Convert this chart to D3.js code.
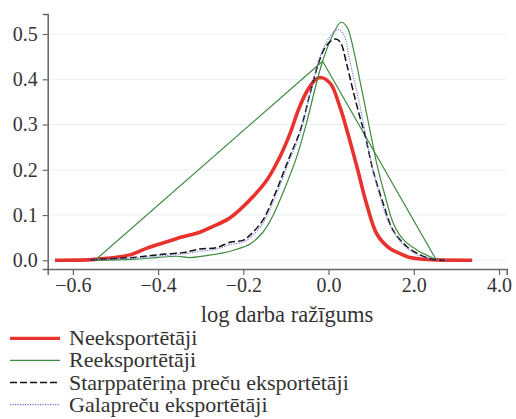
<!DOCTYPE html>
<html>
<head>
<meta charset="utf-8">
<script src="https://cdn.jsdelivr.net/npm/d3@7"></script>
<style>
  body { margin: 0; background: #fff; }
</style>
</head>
<body>
<svg id="canvas"></svg>
<script>
/***********************************************************************/
// Data

var xTickValues = [-6, -4, -2, 0, 2, 4];
var xTickLabels = ['\u22120.6', '\u22120.4', '\u22120.2', '0.0', '2.0', '4.0'];
var yTickValues = [0, 0.1, 0.2, 0.3, 0.4, 0.5];

// Neeksportētāji
var redX = [-6.42, -5.48, -4.66, -4.26, -3.79, -3.42, -3.02, -2.71, -2.36, -2.08, -1.77, -1.45, -1.14, -0.90, -0.71, -0.51, -0.32, -0.20, 0.04, 0.27, 0.43, 0.67, 0.90, 1.14, 1.44, 1.68, 1.91, 2.15, 2.55, 3.37];
var redY = [0, 0.002, 0.012, 0.027, 0.041, 0.052, 0.062, 0.075, 0.091, 0.112, 0.141, 0.177, 0.229, 0.281, 0.332, 0.373, 0.398, 0.404, 0.391, 0.338, 0.288, 0.205, 0.122, 0.057, 0.026, 0.015, 0.006, 0.003, 0.001, 0];

// Reeksportētāji
var greenX = [-5.48, -4.6, -4.03, -3.56, -3.25, -2.9, -2.5, -2.17, -1.84, -1.54, -1.33, -0.98, -0.75, -0.51, -0.32, -0.14, 0.11, 0.29, 0.43, 0.58, 0.74, 0.90, 1.05, 1.14, 1.33, 1.52, 1.76, 2.07, 2.38, 2.52];
var greenY = [0, 0.002, 0.006, 0.009, 0.006, 0.010, 0.016, 0.024, 0.036, 0.062, 0.094, 0.170, 0.228, 0.306, 0.378, 0.440, 0.500, 0.526, 0.516, 0.468, 0.395, 0.321, 0.250, 0.210, 0.141, 0.082, 0.045, 0.023, 0.008, 0.002];
// stray straight segment of the green line
var greenJumpX = [-5.48, -0.14, 2.52];
var greenJumpY = [0, 0.440, 0.002];

// Starppatēriņa preču eksportētāji
var blackX = [-5.6, -4.5, -4.03, -3.42, -3.02, -2.62, -2.31, -2.01, -1.84, -1.54, -1.22, -0.93, -0.67, -0.43, -0.22, -0.05, 0.15, 0.27, 0.43, 0.58, 0.74, 0.86, 1.04, 1.28, 1.51, 1.84, 2.15, 2.45, 2.73];
var blackY = [0.001, 0.007, 0.012, 0.017, 0.025, 0.028, 0.040, 0.044, 0.056, 0.089, 0.155, 0.225, 0.285, 0.370, 0.440, 0.475, 0.489, 0.483, 0.432, 0.373, 0.315, 0.275, 0.200, 0.126, 0.067, 0.030, 0.012, 0.002, 0];

// Galapreču eksportētāji
var blueX = [-5.6, -4.5, -4.03, -3.42, -3.02, -2.62, -2.31, -2.01, -1.84, -1.54, -1.22, -0.93, -0.67, -0.43, -0.22, -0.05, 0.20, 0.35, 0.50, 0.74, 0.97, 1.21, 1.44, 1.75, 2.08, 2.45, 2.8];
var blueY = [0.001, 0.005, 0.009, 0.014, 0.020, 0.025, 0.035, 0.040, 0.050, 0.082, 0.147, 0.218, 0.280, 0.368, 0.445, 0.482, 0.510, 0.500, 0.440, 0.340, 0.230, 0.140, 0.078, 0.035, 0.012, 0.003, 0];

var legendLabels = ['Neeksportētāji', 'Reeksportētāji', 'Starppatēriņa preču eksportētāji', 'Galapreču eksportētāji'];

/***********************************************************************/
// Setup

var svg_width = 516, svg_height = 419;
var plotLeft = 47.7, plotRight = 506.7, plotTop = 14, plotBottom = 269;
var fontFamily = '"Liberation Serif", serif';
var textColor = '#333';

var svg = d3.select('#canvas').attr('width', svg_width).attr('height', svg_height);

var xScale = d3.scaleLinear().domain([-6.59, 4.18]).range([plotLeft, plotRight]);
var yScale = d3.scaleLinear().domain([-0.0192, 0.5443]).range([plotBottom, plotTop]);

var styles = [
  { color: '#e8322e', width: 3.6, dash: null },
  { color: '#3d8b3d', width: 1.2, dash: null },
  { color: '#111', width: 1.5, dash: '7,3' },
  { color: '#6f6fd8', width: 1.1, dash: '1.2,1.3' }
];

/***********************************************************************/
// Grid

svg.append('g').selectAll('line').data(yTickValues).enter().append('line')
  .attr('x1', plotLeft).attr('x2', plotRight)
  .attr('y1', d => yScale(d)).attr('y2', d => yScale(d))
  .style('stroke', '#e9f2ef').style('stroke-width', 1);

/***********************************************************************/
// Lines

var smooth = d3.line().x(d => xScale(d[0])).y(d => yScale(d[1])).curve(d3.curveCatmullRom.alpha(0.5));
var straight = d3.line().x(d => xScale(d[0])).y(d => yScale(d[1]));

function zip(xs, ys){ return xs.map((x, i) => [x, ys[i]]) }

function drawLine(pts, s, gen){
  svg.append('path').attr('d', gen(pts))
    .style('fill', 'none').style('stroke', s.color).style('stroke-width', s.width)
    .style('stroke-dasharray', s.dash).style('stroke-linejoin', 'round');
}

drawLine(zip(redX, redY), styles[0], smooth);
drawLine(zip(greenX, greenY), styles[1], smooth);
drawLine(zip(greenJumpX, greenJumpY), styles[1], straight);
drawLine(zip(blackX, blackY), styles[2], smooth);
drawLine(zip(blueX, blueY), styles[3], smooth);

/***********************************************************************/
// Axes

var xAxis = d3.axisBottom(xScale).tickValues(xTickValues).tickFormat((d, i) => xTickLabels[i]).tickSizeOuter(0).tickSize(6).tickPadding(3);
var yAxis = d3.axisLeft(yScale).tickValues(yTickValues).tickFormat(d3.format('.1f')).tickSizeOuter(0).tickSize(5).tickPadding(5);

var gx = svg.append('g').attr('transform', 'translate(0,' + plotBottom + ')').call(xAxis);
var gy = svg.append('g').attr('transform', 'translate(' + plotLeft + ',0)').call(yAxis);

[gx, gy].forEach(g => {
  g.attr('font-family', fontFamily).attr('font-size', 20);
  g.select('.domain').style('stroke', '#666').style('stroke-width', 1.5);
  g.selectAll('.tick line').style('stroke', '#666').style('stroke-width', 1.2);
  g.selectAll('.tick text').style('font-family', fontFamily).style('font-size', '20px').style('fill', textColor);
});

svg.append('text').attr('x', 287).attr('y', 322).attr('text-anchor', 'middle')
  .style('font-family', fontFamily).style('font-size', '22.5px').style('fill', textColor)
  .text('log darba ražīgums');

/***********************************************************************/
// Legend

var legend = svg.append('g').selectAll('g').data(legendLabels).enter().append('g')
  .attr('transform', (d, i) => 'translate(0,' + (338.3 + i * 22.1) + ')');

legend.append('line').attr('x1', 10).attr('x2', 60).attr('y1', 0).attr('y2', 0)
  .style('stroke', (d, i) => styles[i].color)
  .style('stroke-width', (d, i) => Math.min(styles[i].width, 3.2))
  .style('stroke-dasharray', (d, i) => styles[i].dash);

legend.append('text').attr('x', 69).attr('y', 7)
  .style('font-family', fontFamily).style('font-size', '22px').style('fill', textColor)
  .text(d => d);
</script>
</body>
</html>
